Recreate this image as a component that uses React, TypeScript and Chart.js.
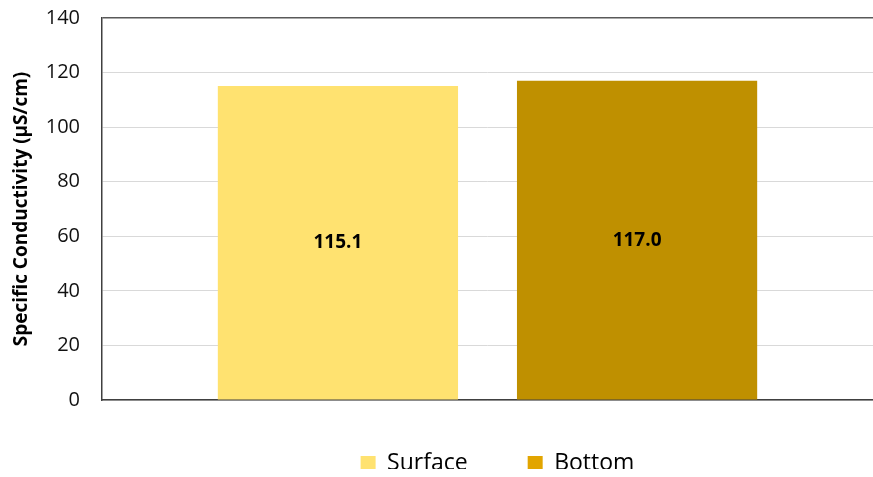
import React, { useEffect, useRef } from "react";
import { Chart, registerables } from "chart.js";

Chart.register(...registerables);

const categories = [""];
const seriesNames = ["Surface", "Bottom"];
const surfaceValues = [115.1];
const bottomValues = [117.0];
const barColors = ["#FFE270", "#BF9000"];
const legendColors = ["#FFE270", "#E2A500"];
const yTicks = [0, 20, 40, 60, 80, 100, 120, 140];

const FONT = "'Open Sans', 'Noto Sans', sans-serif";

// Writes each bar's value in bold at the vertical middle of the bar.
const valueLabels = {
  id: "valueLabels",
  afterDatasetsDraw(chart: any) {
    const ctx = chart.ctx;
    ctx.save();
    ctx.font = `bold 19px ${FONT}`;
    ctx.fillStyle = "#000000";
    ctx.textAlign = "center";
    ctx.textBaseline = "middle";
    chart.data.datasets.forEach((ds: any, i: number) => {
      const meta = chart.getDatasetMeta(i);
      meta.data.forEach((bar: any, j: number) => {
        const v = ds.data[j];
        if (v == null) return;
        const y = (bar.y + bar.base) / 2;
        ctx.fillText(Number(v).toFixed(1), bar.x, y);
      });
    });
    ctx.restore();
  },
};

// Keeps the bottom legend compact while allowing wide spacing between its items.
const LEGEND_HEIGHT = 77;
const LEGEND_SHIFT_Y = -8;
const LEGEND_SHIFT_X = 10;
const legendPlacement = {
  id: "legendPlacement",
  afterInit(chart: any) {
    const legend = chart.legend;
    if (!legend) return;
    const fit = legend.fit.bind(legend);
    legend.fit = function () {
      fit();
      this.height = LEGEND_HEIGHT;
    };
  },
  afterLayout(chart: any) {
    const legend = chart.legend;
    if (!legend) return;
    legend.top += LEGEND_SHIFT_Y;
    legend.bottom += LEGEND_SHIFT_Y;
    legend.left += LEGEND_SHIFT_X;
    legend.right += LEGEND_SHIFT_X;
  },
};

export default function App() {
  const canvasRef = useRef<HTMLCanvasElement | null>(null);

  useEffect(() => {
    if (!canvasRef.current) return;
    const chart = new Chart(canvasRef.current, {
      type: "bar",
      data: {
        labels: categories,
        datasets: [
          {
            label: seriesNames[0],
            data: surfaceValues,
            backgroundColor: barColors[0],
            categoryPercentage: 0.776,
            barPercentage: 0.803,
          },
          {
            label: seriesNames[1],
            data: bottomValues,
            backgroundColor: barColors[1],
            categoryPercentage: 0.776,
            barPercentage: 0.803,
          },
        ],
      },
      options: {
        animation: false,
        responsive: false,
        maintainAspectRatio: false,
        layout: { padding: { top: 18, right: 0, bottom: 0, left: 10 } },
        plugins: {
          tooltip: { enabled: false },
          legend: {
            position: "bottom",
            fullSize: false,
            labels: {
              font: { family: FONT, size: 23 },
              color: "#000000",
              boxWidth: 15,
              boxHeight: 15,
              padding: 60,
              generateLabels: (c: any) =>
                c.data.datasets.map((ds: any, i: number) => ({
                  text: ds.label,
                  fillStyle: legendColors[i],
                  strokeStyle: legendColors[i],
                  lineWidth: 0,
                  hidden: false,
                  datasetIndex: i,
                })),
            },
          },
        },
        scales: {
          x: {
            grid: { display: false },
            border: { display: true, color: "#404040", width: 1.5 },
            ticks: { display: false },
            afterFit: (axis: any) => {
              axis.height = 0;
            },
          },
          y: {
            min: 0,
            max: 140,
            afterBuildTicks: (axis: any) => {
              axis.ticks = yTicks.map((v) => ({ value: v }));
            },
            afterFit: (axis: any) => {
              axis.width = 92;
              axis.paddingTop = 0;
              axis.paddingBottom = 0;
            },
            grid: {
              color: (c: any) => (c.tick && c.tick.value === 140 ? "#595959" : "#D9D9D9"),
              lineWidth: (c: any) => (c.tick && c.tick.value === 140 ? 1.5 : 1),
              drawTicks: false,
            },
            border: { display: true, color: "#404040", width: 1.5 },
            ticks: {
              font: { family: FONT, size: 20 },
              color: "#111111",
              padding: 22,
            },
            title: {
              display: true,
              text: "Specific Conductivity (µS/cm)",
              font: { family: FONT, size: 19, weight: "bold" },
              color: "#000000",
              padding: { top: 0, bottom: 10 },
            },
          },
        },
      },
      plugins: [valueLabels, legendPlacement],
    });
    return () => chart.destroy();
  }, []);

  return (
    <div style={{ position: "fixed", left: 0, top: 0, width: 873, height: 477, background: "#fff" }}>
      <canvas ref={canvasRef} width={873} height={477} />
    </div>
  );
}
